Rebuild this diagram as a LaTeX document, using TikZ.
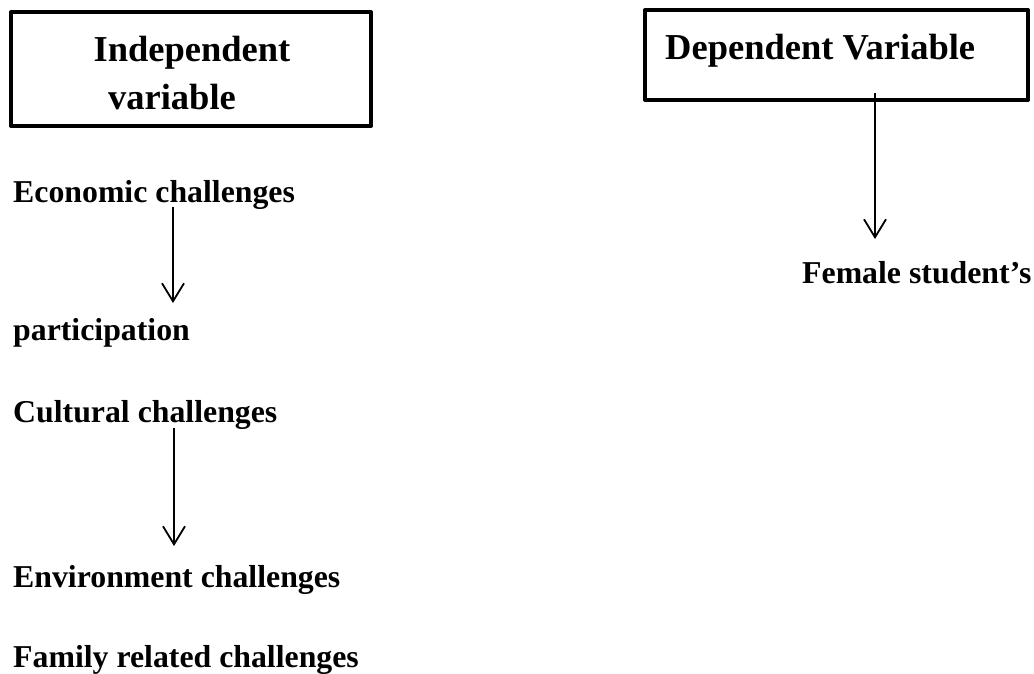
\documentclass[tikz,border=0pt]{standalone}
\usepackage{fontspec}
\setmainfont{Liberation Serif}
\usetikzlibrary{arrows.meta}
\begin{document}
\begin{tikzpicture}[x=1pt,y=-1pt,
  boxed/.style={draw,line width=4pt,line join=round,inner sep=0pt},
  headtxt/.style={inner sep=0pt,font=\fontsize{36.5}{44}\selectfont\bfseries},
  bodytxt/.style={inner sep=0pt,anchor=base west,font=\fontsize{31.8}{38}\selectfont\bfseries},
  arr/.style={line width=1.8pt,-{Straight Barb[length=18pt,width=22pt,line width=1.8pt]}}]
\useasboundingbox (0,0) rectangle (1034,674);
% boxes
\node[boxed,minimum width=360pt,minimum height=114pt] (ibox) at (191,69) {};
\node[boxed,minimum width=383pt,minimum height=90pt] (dbox) at (836.5,55) {};
% headings
\node[headtxt,anchor=base] (indep) at (192,62) {Independent};
\node[headtxt,anchor=base] (ivar) at (172,110) {variable};
\node[headtxt,anchor=base west] (dep) at (665,60) {Dependent Variable};
% left column
\node[bodytxt] (econ) at (13,203) {Economic challenges};
\node[bodytxt] (part) at (13,340) {participation};
\node[bodytxt] (cult) at (13,422) {Cultural challenges};
\node[bodytxt] (env) at (13,587) {Environment challenges};
\node[bodytxt] (fam) at (13,667) {Family related challenges};
% right column
\node[bodytxt] (fem) at (802,283) {Female student’s};
% arrow ends
\coordinate (a1s) at (173,207);
\coordinate (a1e) at (173,303);
\coordinate (a2s) at (174,428);
\coordinate (a2e) at (174,546);
\coordinate (a3s) at (875,93);
\coordinate (a3e) at (875,239);
\draw[arr] (a1s) -- (a1e);
\draw[arr] (a2s) -- (a2e);
\draw[arr] (a3s) -- (a3e);
\end{tikzpicture}
\end{document}
